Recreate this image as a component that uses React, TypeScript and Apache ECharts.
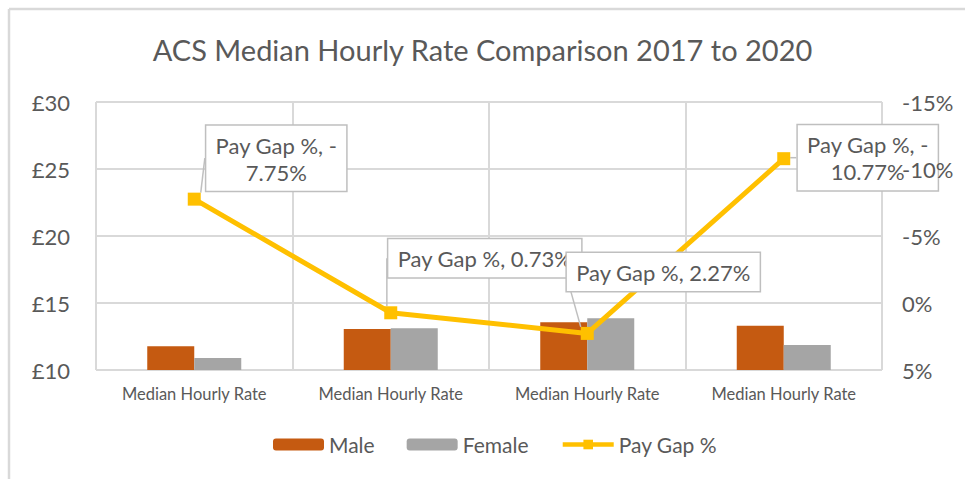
import React, { useEffect, useRef } from 'react';
import * as echarts from 'echarts';

const categories = ['Median Hourly Rate', 'Median Hourly Rate', 'Median Hourly Rate', 'Median Hourly Rate'];
const maleRates = [11.78, 13.06, 13.57, 13.31];
const femaleRates = [10.9, 13.11, 13.86, 11.87];
const payGapPct = [-7.75, 0.73, 2.27, -10.77];
const seriesNames = ['Male', 'Female', 'Pay Gap %'];
const titleText = 'ACS Median Hourly Rate Comparison 2017 to 2020';

// label callout offsets (style, not data)
const labelOffsets = [
  [82, -2],
  [94, -29],
  [76, -36],
  [84, 38],
];

const FONT = 'Lato';
const TXT = '#595959';
const GRID = '#d9d9d9';
const GOLD = '#FFC000';

export default function App() {
  const ref = useRef<HTMLDivElement>(null);
  useEffect(() => {
    if (!ref.current) return;
    const chart = echarts.init(ref.current, undefined, { renderer: 'svg' });
    chart.setOption({
      animation: false,
      backgroundColor: '#fff',
      textStyle: { fontFamily: FONT, color: TXT },
      title: {
        text: titleText,
        left: 'center',
        top: 30,
        textStyle: { fontFamily: FONT, fontSize: 29, fontWeight: 'normal', color: TXT },
      },
      graphic: [
        { type: 'line', shape: { x1: 9, y1: 9, x2: 965, y2: 9 }, style: { stroke: GRID, lineWidth: 2.5 } },
        { type: 'line', shape: { x1: 9, y1: 9, x2: 9, y2: 479 }, style: { stroke: GRID, lineWidth: 2.5 } },
      ],
      legend: {
        top: 429,
        left: 268,
        itemWidth: 51,
        itemHeight: 12,
        itemGap: 32,
        textStyle: { fontFamily: FONT, fontSize: 21, color: TXT },
        data: [
          { name: seriesNames[0] },
          { name: seriesNames[1] },
          { name: seriesNames[2], lineStyle: { width: 4.5, color: GOLD }, itemStyle: { color: GOLD } },
        ],
      },
      grid: { left: 96, right: 83, top: 102, bottom: 109, containLabel: false },
      xAxis: {
        type: 'category',
        data: categories,
        boundaryGap: true,
        axisLine: { show: true, lineStyle: { color: GRID, width: 2 } },
        axisTick: { show: false },
        axisLabel: { fontFamily: FONT, fontSize: 16.5, color: TXT, margin: 15, interval: 0 },
        splitLine: { show: true, interval: 0, lineStyle: { color: GRID, width: 2 } },
      },
      yAxis: [
        {
          type: 'value',
          min: 10,
          max: 30,
          interval: 5,
          axisLine: { show: false },
          axisTick: { show: false },
          axisLabel: { fontFamily: FONT, fontSize: 22, color: TXT, margin: 26, formatter: '£{value}' },
          splitLine: { show: true, lineStyle: { color: GRID, width: 2 } },
        },
        {
          type: 'value',
          min: -15,
          max: 5,
          interval: 5,
          inverse: true,
          z: 20,
          axisLine: { show: false },
          axisTick: { show: false },
          axisLabel: { fontFamily: FONT, fontSize: 22, color: TXT, margin: 20, formatter: '{value}%' },
          splitLine: { show: false },
        },
      ],
      series: [
        {
          name: seriesNames[0],
          type: 'bar',
          data: maleRates,
          barWidth: 47,
          barGap: '0%',
          itemStyle: { color: '#C55A11' },
        },
        {
          name: seriesNames[1],
          type: 'bar',
          data: femaleRates,
          barWidth: 47,
          barGap: '0%',
          itemStyle: { color: '#A5A5A5' },
        },
        {
          name: seriesNames[2],
          type: 'line',
          yAxisIndex: 1,
          data: payGapPct,
          symbol: 'rect',
          symbolSize: 13,
          lineStyle: { color: GOLD, width: 5 },
          itemStyle: { color: GOLD },
          z: 5,
          label: {
            show: true,
            position: 'top',
            distance: 0,
            align: 'center',
            fontFamily: FONT,
            fontSize: 22,
            lineHeight: 27,
            color: TXT,
            backgroundColor: '#fff',
            borderColor: '#bfbfbf',
            borderWidth: 1.5,
            padding: [6, 9, 5, 9],
            formatter: (p: any) => {
              const v = p.value as number;
              if (v < 0) return 'Pay Gap %, -\n' + Math.abs(v).toFixed(2) + '%';
              return 'Pay Gap %, ' + v.toFixed(2) + '%';
            },
          },
          labelLine: { show: true, lineStyle: { color: '#bfbfbf', width: 1.5 } },
          labelLayout: (params: any) => {
            const o = labelOffsets[params.dataIndex] || [0, 0];
            return { dx: o[0], dy: o[1] };
          },
        },
      ],
    });
    return () => chart.dispose();
  }, []);
  return (
    <div style={{ position: 'fixed', left: 0, top: 0, width: 965, height: 479, background: '#fff' }}>
      <div ref={ref} style={{ width: 965, height: 479 }} />
    </div>
  );
}
